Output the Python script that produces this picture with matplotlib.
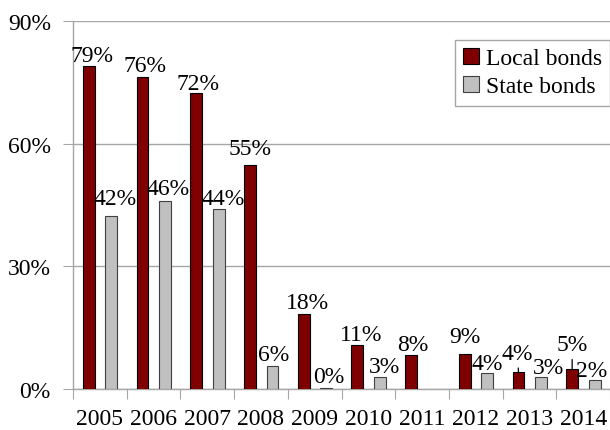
import numpy as np
import matplotlib
matplotlib.use("Agg")
import matplotlib.pyplot as plt

plt.rcParams["font.family"] = ["Liberation Serif", "DejaVu Serif"]
plt.rcParams["font.size"] = 17

years = ["2005", "2006", "2007", "2008", "2009", "2010", "2011", "2012", "2013", "2014"]
local_bonds = [78.9, 76.2, 72.3, 54.8, 18.3, 10.7, 8.2, 8.6, 4.2, 4.8]
state_bonds = [42.4, 45.9, 43.9, 5.6, 0.2, 2.9, np.nan, 3.8, 3.0, 2.3]

# label nudges in pixels (dx, gap above the bar top)
local_nudge = [(3, 5), (2, 6), (2, 4), (0, 11), (4, 6), (3.5, 5), (1.5, 5), (0, 12), (-1, 13), (0, 19)]
state_nudge = [(4, 12), (3, 7), (4.5, 5), (1, 6), (3, 6), (4.5, 5), None, (0, 4), (7.5, 4), (-3.5, 4)]
local_leader = [8, 9]

LOCAL_COLOR = "#7f0000"
STATE_COLOR = "#c0c0c0"
GRID_COLOR = "#a6a6a6"

fig = plt.figure(figsize=(6.1, 4.31), dpi=100)
ax = fig.add_axes([73 / 610, 41 / 431, 537 / 610, 368 / 431])

x = np.arange(len(years))
w = 0.22
b1 = ax.bar(x - 0.205, local_bonds, w, color=LOCAL_COLOR, edgecolor="black", linewidth=0.8,
            label="Local bonds", zorder=3)
b2 = ax.bar(x + 0.215, np.nan_to_num(state_bonds), w, color=STATE_COLOR, edgecolor="#404040",
            linewidth=0.8, label="State bonds", zorder=3)
# no state bond figure for 2011
b2[6].set_visible(False)


def put_label(xpos, val, nudge, leader=False):
    dx, dy = nudge
    props = None
    if leader:
        props = dict(arrowstyle="-", color="black", lw=0.9, shrinkA=1, shrinkB=0)
    ax.annotate(f"{round(val):.0f}%", xy=(xpos, val), xytext=(dx, dy), textcoords="offset pixels",
                ha="center", va="baseline", fontsize=17, arrowprops=props, zorder=4)


for i in range(len(years)):
    put_label(x[i] - 0.205, local_bonds[i], local_nudge[i], i in local_leader)
    if not np.isnan(state_bonds[i]):
        put_label(x[i] + 0.215, state_bonds[i], state_nudge[i])

ax.set_ylim(0, 90)
ax.set_xlim(-0.5, len(years) - 0.5)
ax.set_yticks([0, 30, 60, 90])
ax.set_yticklabels([f"{v}%" for v in [0, 30, 60, 90]])
ax.tick_params(axis="y", length=7, color=GRID_COLOR, pad=9)

ax.set_xticks(np.arange(-0.5, len(years), 1))
ax.set_xticklabels([])
ax.tick_params(axis="x", which="major", length=7, color=GRID_COLOR)
ax.set_xticks(x, minor=True)
ax.set_xticklabels(years, minor=True)
ax.tick_params(axis="x", which="minor", length=0, pad=14)

ax.grid(True, axis="y", color=GRID_COLOR, linewidth=1, zorder=0)
ax.set_axisbelow(True)
for s in ["top", "right"]:
    ax.spines[s].set_visible(False)
for s in ["left", "bottom"]:
    ax.spines[s].set_color(GRID_COLOR)
    ax.spines[s].set_linewidth(1)

leg = ax.legend(loc="upper right", bbox_to_anchor=(1.0, 0.949), borderaxespad=0,
                fancybox=False, framealpha=1, edgecolor=GRID_COLOR, handlelength=0.65,
                handleheight=0.65, handletextpad=0.3, labelspacing=0.3, borderpad=0.35)
leg.get_frame().set_linewidth(1)

fig.savefig("out.png", dpi=100)
